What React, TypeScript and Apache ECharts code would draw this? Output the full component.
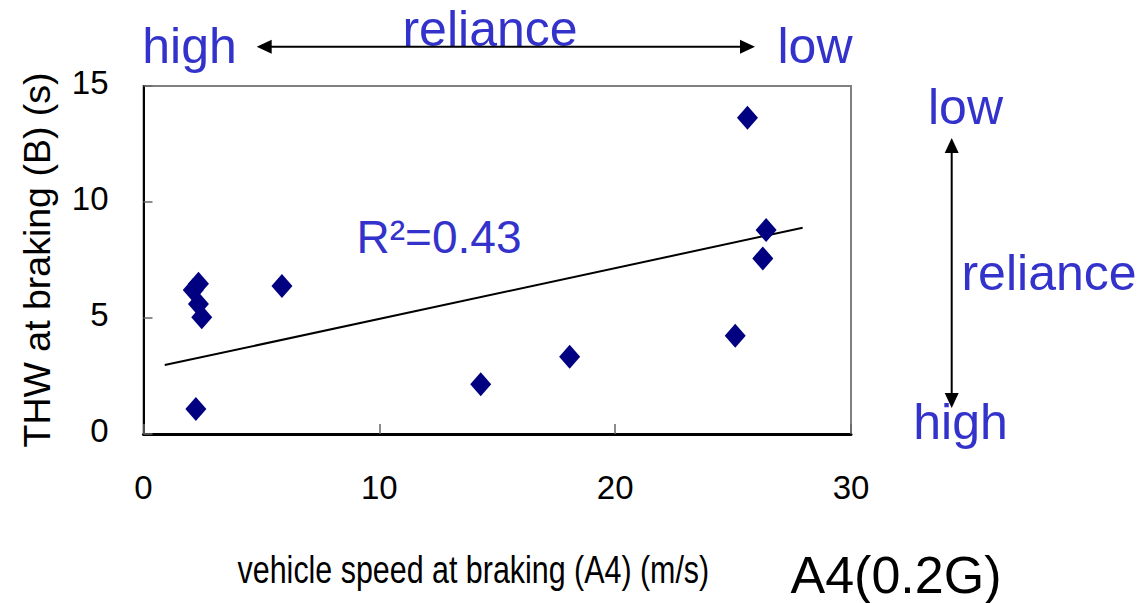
import React, { useEffect, useRef } from "react";
import * as echarts from "echarts";

const speedX = [2.11, 2.33, 2.33, 2.47, 2.22, 5.87, 14.3, 18.07, 25.09, 25.61, 26.4, 26.26];
const thwY = [6.21, 6.48, 5.6, 5.03, 1.08, 6.38, 2.14, 3.33, 4.24, 13.63, 8.79, 7.57];
const trendX = [0.9, 27.95];
const trendY = [2.97, 8.89];
const xTicks = [0, 10, 20, 30];
const yTicks = [0, 5, 10, 15];

const BLUE = "#3333CC";
const SANS = "'Liberation Sans', Arial, sans-serif";

export default function App() {
  const ref = useRef<HTMLDivElement>(null);
  useEffect(() => {
    if (!ref.current) return;
    const chart = echarts.init(ref.current, undefined, { renderer: "svg" });
    const pts = speedX.map((x, i) => [x, thwY[i]]);
    const trend = trendX.map((x, i) => [x, trendY[i]]);
    const arrowHead = (pts: number[][]) => ({
      type: "polygon",
      shape: { points: pts },
      style: { fill: "#000" },
    });
    chart.setOption({
      animation: false,
      grid: {
        left: 143.5,
        right: 295,
        top: 86,
        bottom: 169,
        show: true,
        borderColor: "#808080",
        borderWidth: 2,
        containLabel: false,
        outerBoundsMode: "none",
      },
      xAxis: {
        type: "value",
        min: xTicks[0],
        max: xTicks[xTicks.length - 1],
        interval: 10,
        axisLine: { show: true, lineStyle: { color: "#000", width: 3 } },
        axisTick: { show: true, inside: true, length: 10, lineStyle: { color: "#666", width: 1.5 } },
        splitLine: { show: false },
        axisLabel: { color: "#000", fontSize: 33, fontFamily: SANS, margin: 37 },
      },
      yAxis: {
        type: "value",
        min: yTicks[0],
        max: yTicks[yTicks.length - 1],
        interval: 5,
        name: "THW at braking (B) (s)",
        nameLocation: "middle",
        nameGap: 88,
        nameTextStyle: { color: "#000", fontSize: 37.5, fontFamily: SANS },
        axisLine: { show: true, lineStyle: { color: "#000", width: 2 } },
        axisTick: { show: true, inside: true, length: 9, lineStyle: { color: "#666", width: 1.5 } },
        splitLine: { show: false },
        axisLabel: { color: "#000", fontSize: 33, fontFamily: SANS, margin: 35, verticalAlign: "bottom", lineHeight: 7 },
      },
      series: [
        {
          type: "line",
          data: trend,
          showSymbol: false,
          symbol: "none",
          lineStyle: { color: "#000", width: 2 },
          z: 2,
        },
        {
          type: "scatter",
          data: pts,
          symbol: "diamond",
          symbolSize: [21, 24],
          itemStyle: { color: "#000080", opacity: 1 },
          z: 3,
        },
      ],
      graphic: [
        { type: "text", x: 189.5, y: 45.7, style: { text: "high", fontSize: 50, fontFamily: SANS, fill: BLUE, align: "center", verticalAlign: "middle" } },
        { type: "text", x: 490, y: 29.3, style: { text: "reliance", fontSize: 50, fontFamily: SANS, fill: BLUE, align: "center", verticalAlign: "middle" } },
        { type: "text", x: 815, y: 45.7, style: { text: "low", fontSize: 50, fontFamily: SANS, fill: BLUE, align: "center", verticalAlign: "middle" } },
        { type: "line", shape: { x1: 268, y1: 46.7, x2: 744, y2: 46.7 }, style: { stroke: "#000", lineWidth: 2 } },
        arrowHead([[256.7, 46.7], [271.7, 39.7], [271.7, 53.7]]),
        arrowHead([[755, 46.7], [740, 39.7], [740, 53.7]]),
        { type: "text", x: 965.5, y: 106.6, style: { text: "low", fontSize: 50, fontFamily: SANS, fill: BLUE, align: "center", verticalAlign: "middle" } },
        { type: "text", x: 1049, y: 272.6, style: { text: "reliance", fontSize: 50, fontFamily: SANS, fill: BLUE, align: "center", verticalAlign: "middle" } },
        { type: "text", x: 960.5, y: 422, style: { text: "high", fontSize: 50, fontFamily: SANS, fill: BLUE, align: "center", verticalAlign: "middle" } },
        { type: "line", shape: { x1: 951.7, y1: 150, x2: 951.7, y2: 396 }, style: { stroke: "#000", lineWidth: 2 } },
        arrowHead([[951.7, 138], [944.7, 153], [958.7, 153]]),
        arrowHead([[951.7, 408], [944.7, 393], [958.7, 393]]),
        { type: "text", x: 439, y: 237.3, style: { text: "R²=0.43", fontSize: 46, fontFamily: SANS, fill: BLUE, align: "center", verticalAlign: "middle" } },
        { type: "text", x: 473.4, y: 569.5, scaleX: 0.78, style: { text: "vehicle speed at braking (A4) (m/s)", fontSize: 39, fontFamily: SANS, fill: "#000", align: "center", verticalAlign: "middle" } },
        { type: "text", x: 896, y: 575, style: { text: "A4(0.2G)", fontSize: 52, fontFamily: SANS, fill: "#000", align: "center", verticalAlign: "middle" } },
      ],
    });
    return () => chart.dispose();
  }, []);
  return <div ref={ref} style={{ width: 1146, height: 603, position: "absolute", left: 0, top: 0, background: "#fff" }} />;
}
